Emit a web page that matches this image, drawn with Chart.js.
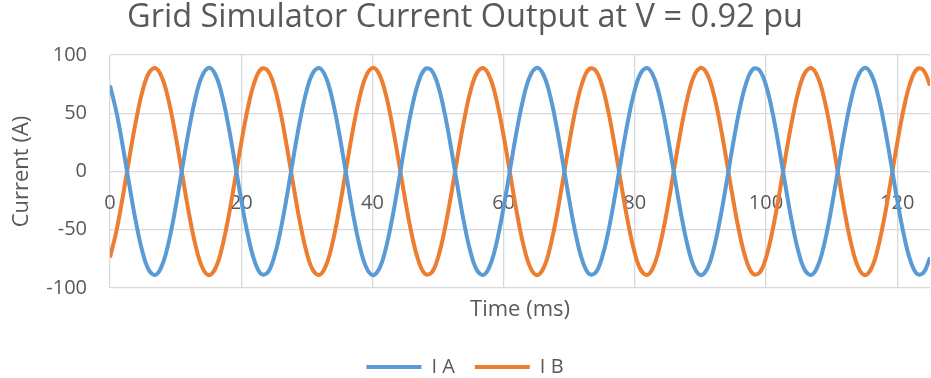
<!DOCTYPE html>
<html>
<head>
<meta charset="utf-8">
<script src="https://cdn.jsdelivr.net/npm/chart.js@4.4.0/dist/chart.umd.min.js"></script>
<style>
  html, body { margin: 0; padding: 0; background: #fff; }
</style>
</head>
<body>
<canvas id="graficoCorrente" width="931" height="378"></canvas>
<script>
// Tempo (ms), amostras de 1 ms
const tempoMs = [
  0, 1, 2, 3, 4, 5, 6, 7, 8, 9, 10, 11, 12, 13, 14, 15, 16, 17, 18, 19,
  20, 21, 22, 23, 24, 25, 26, 27, 28, 29, 30, 31, 32, 33, 34, 35, 36, 37, 38, 39,
  40, 41, 42, 43, 44, 45, 46, 47, 48, 49, 50, 51, 52, 53, 54, 55, 56, 57, 58, 59,
  60, 61, 62, 63, 64, 65, 66, 67, 68, 69, 70, 71, 72, 73, 74, 75, 76, 77, 78, 79,
  80, 81, 82, 83, 84, 85, 86, 87, 88, 89, 90, 91, 92, 93, 94, 95, 96, 97, 98, 99,
  100, 101, 102, 103, 104, 105, 106, 107, 108, 109, 110, 111, 112, 113, 114, 115,
  116, 117, 118, 119, 120, 121, 122, 123, 124, 125
];

// Corrente fase A (A)
const correnteA = [
  73.9, 50.5, 20.0, -13.4, -44.8, -70.0, -85.3, -88.7, -79.6, -59.3,
  -30.7, 2.2, 34.8, 62.5, 81.5, 88.9, 83.9, 67.1, 40.9, 8.9,
  -24.3, -54.1, -76.3, -87.8, -87.0, -73.9, -50.5, -20.0, 13.4, 44.8,
  70.0, 85.3, 88.7, 79.6, 59.3, 30.7, -2.2, -34.8, -62.5, -81.5,
  -88.9, -83.9, -67.1, -40.9, -8.9, 24.3, 54.1, 76.3, 87.8, 87.0,
  73.9, 50.5, 20.0, -13.4, -44.8, -70.0, -85.3, -88.7, -79.6, -59.3,
  -30.7, 2.2, 34.8, 62.5, 81.5, 88.9, 83.9, 67.1, 40.9, 8.9,
  -24.3, -54.1, -76.3, -87.8, -87.0, -73.9, -50.5, -20.0, 13.4, 44.8,
  70.0, 85.3, 88.7, 79.6, 59.3, 30.7, -2.2, -34.8, -62.5, -81.5,
  -88.9, -83.9, -67.1, -40.9, -8.9, 24.3, 54.1, 76.3, 87.8, 87.0,
  73.9, 50.5, 20.0, -13.4, -44.8, -70.0, -85.3, -88.7, -79.6, -59.3,
  -30.7, 2.2, 34.8, 62.5, 81.5, 88.9, 83.9, 67.1, 40.9, 8.9,
  -24.3, -54.1, -76.3, -87.8, -87.0, -73.9
];

// Corrente fase B (A)
const correnteB = [
  -73.9, -50.5, -20.0, 13.4, 44.8, 70.0, 85.3, 88.7, 79.6, 59.3,
  30.7, -2.2, -34.8, -62.5, -81.5, -88.9, -83.9, -67.1, -40.9, -8.9,
  24.3, 54.1, 76.3, 87.8, 87.0, 73.9, 50.5, 20.0, -13.4, -44.8,
  -70.0, -85.3, -88.7, -79.6, -59.3, -30.7, 2.2, 34.8, 62.5, 81.5,
  88.9, 83.9, 67.1, 40.9, 8.9, -24.3, -54.1, -76.3, -87.8, -87.0,
  -73.9, -50.5, -20.0, 13.4, 44.8, 70.0, 85.3, 88.7, 79.6, 59.3,
  30.7, -2.2, -34.8, -62.5, -81.5, -88.9, -83.9, -67.1, -40.9, -8.9,
  24.3, 54.1, 76.3, 87.8, 87.0, 73.9, 50.5, 20.0, -13.4, -44.8,
  -70.0, -85.3, -88.7, -79.6, -59.3, -30.7, 2.2, 34.8, 62.5, 81.5,
  88.9, 83.9, 67.1, 40.9, 8.9, -24.3, -54.1, -76.3, -87.8, -87.0,
  -73.9, -50.5, -20.0, 13.4, 44.8, 70.0, 85.3, 88.7, 79.6, 59.3,
  30.7, -2.2, -34.8, -62.5, -81.5, -88.9, -83.9, -67.1, -40.9, -8.9,
  24.3, 54.1, 76.3, 87.8, 87.0, 73.9
];

const cinza = '#595959';
const grade = '#d9d9d9';

Chart.defaults.font.family = "'Open Sans', sans-serif";
Chart.defaults.color = cinza;

const pontos = (valores) => tempoMs.map((t, i) => ({ x: t, y: valores[i] }));

const ctx = document.getElementById('graficoCorrente').getContext('2d');
new Chart(ctx, {
  type: 'line',
  data: {
    datasets: [
      {
        label: 'I A',
        data: pontos(correnteA),
        borderColor: '#5B9BD5',
        backgroundColor: '#5B9BD5',
        borderWidth: 4,
        pointRadius: 0,
        tension: 0.4,
        fill: false
      },
      {
        label: 'I B',
        data: pontos(correnteB),
        borderColor: '#ED7D31',
        backgroundColor: '#ED7D31',
        borderWidth: 4,
        pointRadius: 0,
        tension: 0.4,
        fill: false
      }
    ]
  },
  options: {
    responsive: false,
    animation: false,
    // o rodapé passa um pouco da borda, como na imagem original (legenda cortada)
    layout: { padding: { left: 0, right: 1, top: 0, bottom: -9 } },
    plugins: {
      title: {
        display: true,
        text: 'Grid Simulator Current Output at V = 0.92 pu',
        color: cinza,
        font: { size: 32.5, weight: 'normal', lineHeight: 1.1 },
        padding: { top: 0, bottom: 19.25 }
      },
      legend: {
        position: 'bottom',
        labels: {
          usePointStyle: true,
          pointStyle: 'line',
          pointStyleWidth: 55,
          color: cinza,
          font: { size: 20 },
          padding: 20
        }
      },
      tooltip: { enabled: false }
    },
    scales: {
      x: {
        type: 'linear',
        min: 0,
        max: 125,
        position: { y: 0 },
        grid: { color: grade, lineWidth: 1.3, drawTicks: false },
        border: { display: false },
        ticks: { stepSize: 20, includeBounds: false, font: { size: 20 }, padding: 19.6, maxRotation: 0 },
        // rótulos ficam dentro da área do gráfico, não precisam de margem lateral
        afterFit: (escala) => { escala.paddingLeft = 0; escala.paddingRight = 0; }
      },
      xt: {
        type: 'linear',
        axis: 'x',
        min: 0,
        max: 125,
        position: 'bottom',
        grid: { display: false, drawTicks: false },
        border: { display: false },
        ticks: { display: false },
        title: { display: true, text: 'Time (ms)', font: { size: 22 }, padding: { top: 8.8, bottom: 13.8 } },
        afterFit: (escala) => { escala.height = 49; escala.paddingLeft = 0; escala.paddingRight = 0; }
      },
      y: {
        min: -100,
        max: 100,
        grid: { color: grade, lineWidth: 1.3, drawTicks: false },
        border: { display: false },
        ticks: { stepSize: 50, font: { size: 20 }, padding: 23 },
        title: { display: true, text: 'Current (A)', font: { size: 22 }, padding: { top: 9, bottom: 0 } },
        afterFit: (escala) => { escala.width = 110; }
      }
    }
  }
});
</script>
</body>
</html>
